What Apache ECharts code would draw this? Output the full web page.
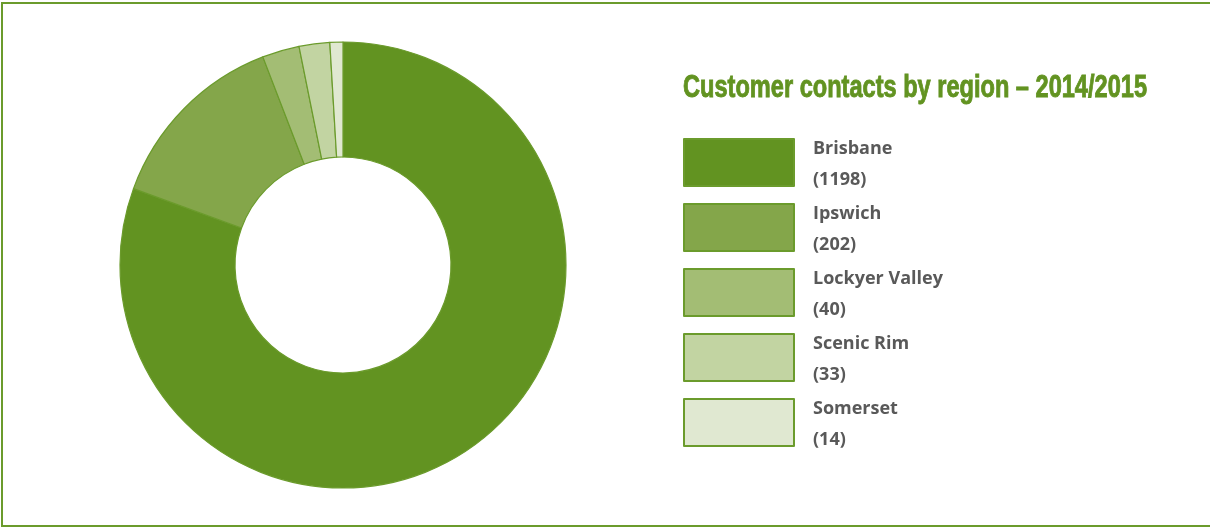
<!DOCTYPE html>
<html>
<head>
<meta charset="utf-8">
<style>
  html, body { margin: 0; padding: 0; background: #ffffff; }
  #chart { width: 1210px; height: 529px; }
</style>
<script src="https://cdn.jsdelivr.net/npm/echarts@6/dist/echarts.min.js"></script>
</head>
<body>
<div id="chart"></div>
<script>
// Customer contacts per region, 2014/2015
const regions = ['Brisbane', 'Ipswich', 'Lockyer Valley', 'Scenic Rim', 'Somerset'];
const contacts = [1198, 202, 40, 33, 14];
const sliceColors = ['#629321', '#84a64a', '#a3bd74', '#c2d4a2', '#e0e8d1'];
const titleText = 'Customer contacts by region \u2013 2014/2015';

// Heading is set in a heavy condensed face: draw a bold sans and squeeze it
// horizontally to the heading's width.
const titleFont = 'bold 31px "Liberation Sans", Arial, sans-serif';
const titleWidth = 464;
const measureCtx = document.createElement('canvas').getContext('2d');
measureCtx.font = titleFont;
const titleScale = titleWidth / measureCtx.measureText(titleText).width;

const chart = echarts.init(document.getElementById('chart'), null, { renderer: 'canvas' });

const pieData = regions.map((name, i) => ({
  name: name,
  value: contacts[i],
  itemStyle: { color: sliceColors[i] }
}));

const legendFont = {
  fontFamily: '"Open Sans", Lato, sans-serif',
  fontWeight: 'bold',
  fontSize: 18,
  color: '#595959'
};

chart.setOption({
  backgroundColor: '#ffffff',
  animation: false,
  legend: {
    orient: 'vertical',
    left: 678,
    top: 133,
    icon: 'rect',
    itemWidth: 110,
    itemHeight: 47,
    itemGap: 14.5,
    selectedMode: false,
    data: regions,
    formatter: function (name) {
      const i = regions.indexOf(name);
      return '{n|' + name + '}\n{v|(' + contacts[i] + ')}';
    },
    textStyle: Object.assign({}, legendFont, {
      padding: [0, 0, 0, 14],
      rich: {
        n: Object.assign({}, legendFont, { lineHeight: 34 }),
        v: Object.assign({}, legendFont, { lineHeight: 28 })
      }
    })
  },
  graphic: [
    {
      type: 'rect',
      silent: true,
      shape: { x: 2, y: 3, width: 1220, height: 523 },
      style: { fill: 'none', stroke: '#6b9b2c', lineWidth: 2 }
    },
    {
      type: 'text',
      silent: true,
      x: 683,
      y: 73,
      scaleX: titleScale,
      style: {
        text: titleText,
        font: titleFont,
        fill: '#629321',
        stroke: '#629321',
        lineWidth: 0.9,
        verticalAlign: 'top'
      }
    }
  ],
  series: [{
    type: 'pie',
    center: [343, 265],
    radius: [108, 223],
    startAngle: 90,
    clockwise: true,
    avoidLabelOverlap: false,
    label: { show: false },
    labelLine: { show: false },
    emphasis: { disabled: true },
    itemStyle: { borderColor: '#6b9b2c', borderWidth: 1.2 },
    data: pieData
  }]
});
</script>
</body>
</html>
